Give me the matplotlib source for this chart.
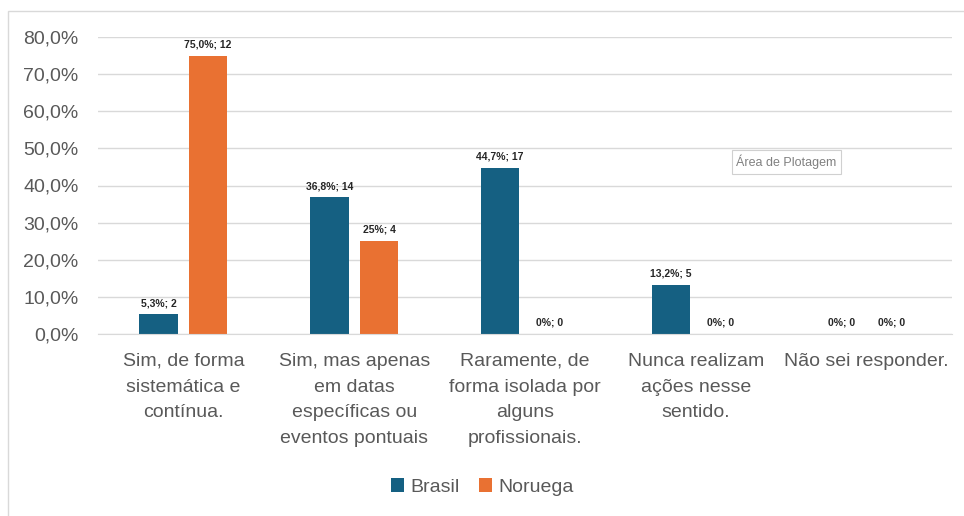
import numpy as np
import matplotlib.pyplot as plt
from matplotlib.patches import Rectangle

categories = [
    'Sim, de forma\nsistemática e\ncontínua.',
    'Sim, mas apenas\nem datas\nespecíficas ou\neventos pontuais',
    'Raramente, de\nforma isolada por\nalguns\nprofissionais.',
    'Nunca realizam\nações nesse\nsentido.',
    'Não sei responder.',
]
brasil = [5.3, 36.8, 44.7, 13.2, 0.0]
noruega = [75.0, 25.0, 0.0, 0.0, 0.0]
brasil_labels = ['5,3%; 2', '36,8%; 14', '44,7%; 17', '13,2%; 5', '0%; 0']
noruega_labels = ['75,0%; 12', '25%; 4', '0%; 0', '0%; 0', '0%; 0']
yticks = [0, 10, 20, 30, 40, 50, 60, 70, 80]

BLUE = '#156082'
ORANGE = '#E97132'
GRID = '#d9d9d9'
TXT = '#595959'
plt.rcParams['font.family'] = ['Liberation Sans', 'DejaVu Sans']

fig = plt.figure(figsize=(9.64, 5.16), dpi=100)
fig.patches.append(Rectangle((8 / 964, -0.1), 1.2, 1 - 11 / 516 + 0.1,
                             transform=fig.transFigure, fill=False,
                             edgecolor='#d9d9d9', linewidth=1))
ax = fig.add_axes([98 / 964, 1 - 334 / 516, 854 / 964, 297 / 516])

x = np.arange(len(categories))
w = 0.225
off = 0.145
b1 = ax.bar(x - off, brasil, w, color=BLUE, label='Brasil', zorder=3)
b2 = ax.bar(x + off, noruega, w, color=ORANGE, label='Noruega', zorder=3)

for bars, labs in ((b1, brasil_labels), (b2, noruega_labels)):
    for rect, lab in zip(bars, labs):
        ax.annotate(lab, (rect.get_x() + rect.get_width() / 2, rect.get_height()),
                    xytext=(0, 4.5), textcoords='offset points', ha='center',
                    va='bottom', fontsize=7.5, fontweight='bold', color='#262626')

ax.set_xlim(-0.5, len(categories) - 0.5)
ax.set_ylim(0, 80)
ax.set_yticks(yticks)
ax.set_yticklabels([f'{v},0%' for v in yticks], fontsize=14, color=TXT)
ax.set_xticks(x)
ax.set_xticklabels(categories, fontsize=14, color=TXT,
                   va='top', linespacing=1.68)
ax.tick_params(axis='y', length=0, pad=14)
ax.tick_params(axis='x', length=0, pad=13.5)
ax.yaxis.grid(True, color=GRID, linewidth=1, zorder=0)
for s in ('top', 'right', 'left'):
    ax.spines[s].set_visible(False)
ax.spines['bottom'].set_color(GRID)
ax.spines['bottom'].set_zorder(4)

leg = fig.legend(loc='center', bbox_to_anchor=(0.5, 1 - 487 / 516), ncol=2,
                 frameon=False, handlelength=0.7, handleheight=0.7,
                 handletextpad=0.3, columnspacing=1.0,
                 prop={'size': 14})
for t in leg.get_texts():
    t.set_color(TXT)

# tooltip captured in the screenshot
fig.text(786 / 964, 1 - 162 / 516, 'Área de Plotagem', ha='center', va='center',
         fontsize=9, color='#808080',
         bbox=dict(boxstyle='square,pad=0.35', facecolor='white',
                   edgecolor='#d0d0d0', linewidth=0.8))

fig.savefig('out.png', dpi=100)
